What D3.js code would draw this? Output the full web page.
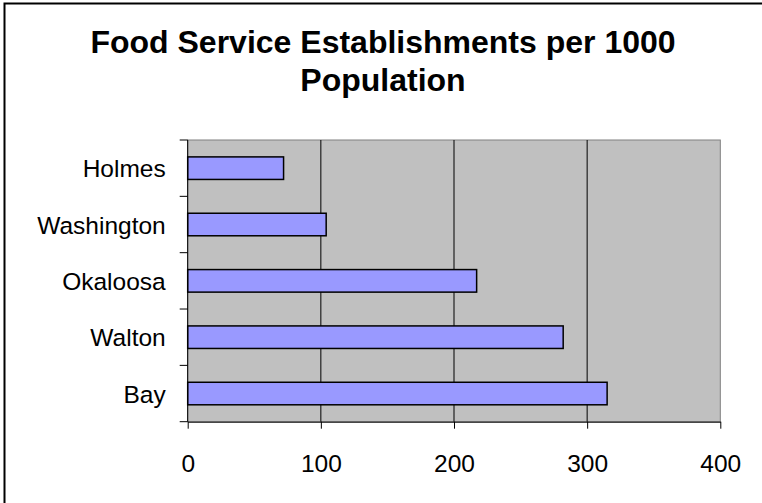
<!DOCTYPE html>
<html>
<head>
<meta charset="utf-8">
<script src="https://cdn.jsdelivr.net/npm/d3@7"></script>
<style>
  body { margin: 0; background: #fff; }
  svg { display: block; font-family: Arial, "Liberation Sans", sans-serif; }
</style>
</head>
<body>
<svg id="chart" width="762" height="503"></svg>
<script>
var counties = ["Holmes", "Washington", "Okaloosa", "Walton", "Bay"];
var establishments = [72, 104, 217, 282, 315];
var xTicks = [0, 100, 200, 300, 400];
var titleLines = ["Food Service Establishments per 1000", "Population"];

var svg = d3.select("#chart");
var plotLeft = 187.7, plotRight = 720.3, plotTop = 140, plotBottom = 421.7;

var x = d3.scaleLinear().domain([0, 400]).range([plotLeft, plotRight]);
var y = d3.scaleBand().domain(counties).range([plotTop, plotBottom])
    .paddingInner(0.6).paddingOuter(0.3);

// outer frame
svg.append("rect")
    .attr("x", 4.5).attr("y", 3.5)
    .attr("width", 800).attr("height", 600)
    .attr("fill", "none").attr("stroke", "#000").attr("stroke-width", 2);

// title
svg.append("text")
    .attr("text-anchor", "middle")
    .attr("font-size", 32).attr("font-weight", "bold")
    .selectAll("tspan")
    .data(titleLines)
    .enter().append("tspan")
    .attr("x", 383)
    .attr("y", function(d, i) { return 53 + i * 38; })
    .text(function(d) { return d; });

// plot area
svg.append("rect")
    .attr("x", plotLeft).attr("y", plotTop)
    .attr("width", plotRight - plotLeft).attr("height", plotBottom - plotTop)
    .attr("fill", "#c0c0c0").attr("stroke", "#808080").attr("stroke-width", 1);

// gridlines
svg.selectAll(".grid")
    .data(xTicks.slice(1, -1))
    .enter().append("line")
    .attr("class", "grid")
    .attr("x1", function(d) { return x(d); })
    .attr("x2", function(d) { return x(d); })
    .attr("y1", plotTop).attr("y2", plotBottom)
    .attr("stroke", "#000").attr("stroke-width", 1);

// bars
svg.selectAll(".bar")
    .data(counties)
    .enter().append("rect")
    .attr("class", "bar")
    .attr("x", x(0))
    .attr("y", function(d) { return y(d); })
    .attr("width", function(d, i) { return x(establishments[i]) - x(0); })
    .attr("height", y.bandwidth())
    .attr("fill", "#9999ff")
    .attr("stroke", "#000").attr("stroke-width", 1.5);

// y axis labels
var yAxis = svg.append("g")
    .attr("transform", "translate(" + plotLeft + ",0)")
    .call(d3.axisLeft(y).tickSize(0).tickPadding(22));
yAxis.select(".domain").remove();
yAxis.selectAll("text")
    .attr("font-size", 24.5)
    .attr("font-family", "Arial, 'Liberation Sans', sans-serif")
    .attr("fill", "#000")
    .attr("dy", 9);

// y axis line and boundary ticks
svg.append("line")
    .attr("x1", plotLeft).attr("x2", plotLeft)
    .attr("y1", plotTop).attr("y2", plotBottom)
    .attr("stroke", "#000").attr("stroke-width", 1);
var bounds = counties.map(function(d) { return y(d) - y.step() * y.paddingOuter(); });
bounds.push(plotBottom);
svg.selectAll(".ytick")
    .data(bounds)
    .enter().append("line")
    .attr("class", "ytick")
    .attr("x1", plotLeft - 8).attr("x2", plotLeft)
    .attr("y1", function(d) { return d; })
    .attr("y2", function(d) { return d; })
    .attr("stroke", "#000").attr("stroke-width", 1);

// x axis
var xAxis = svg.append("g")
    .attr("transform", "translate(0," + plotBottom + ")")
    .call(d3.axisBottom(x).tickValues(xTicks).tickSize(7).tickSizeOuter(0));
xAxis.select(".domain").attr("stroke", "#000");
xAxis.selectAll("line").attr("stroke", "#000");
xAxis.selectAll("text")
    .attr("font-size", 24.5)
    .attr("font-family", "Arial, 'Liberation Sans', sans-serif")
    .attr("fill", "#000")
    .attr("y", 50).attr("dy", null);
</script>
</body>
</html>
